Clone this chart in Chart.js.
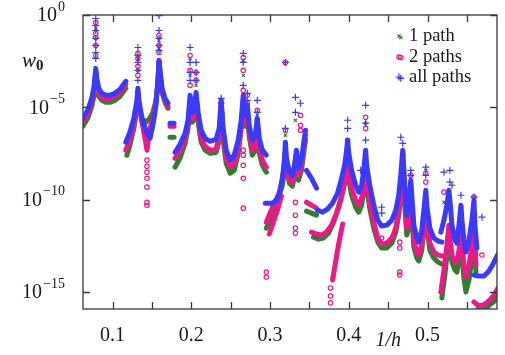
<!DOCTYPE html>
<html lang="en">
<head>
<meta charset="UTF-8">
<title>w0 vs 1/h</title>
<script src="https://cdn.jsdelivr.net/npm/chart.js"></script>
<style>
    body { margin: 0; background: #fff; }
    #wrap { width: 505px; height: 355px; position: relative; }
</style>
</head>
<body>
<div id="wrap"><canvas id="c"></canvas></div>
<script>
// points are [1/h, log10(w0)]
const BLUE_BANDS = [
    [[0.0622,-5.59],[0.0685,-5.16],[0.0736,-4.51],[0.0762,-3.97],[0.0787,-2.89],[0.0800,-3.43],[0.0825,-3.97],[0.0864,-4.24],[0.0915,-4.35],[0.0966,-4.35],[0.1029,-4.24],[0.1093,-4.03],[0.1169,-3.59]],
    [[0.1169,-6.89],[0.1220,-6.35],[0.1271,-5.59],[0.1310,-4.62],[0.1322,-3.97],[0.1335,-4.62],[0.1373,-5.59],[0.1424,-6.24],[0.1475,-6.68],[0.1513,-5.97],[0.1552,-4.89],[0.1577,-3.54],[0.1590,-2.46],[0.1603,-3.00],[0.1628,-3.97],[0.1666,-4.51],[0.1704,-4.78]],
    [[0.1730,-5.86],[0.1781,-5.86]],
    [[0.1794,-7.43],[0.1857,-7.00],[0.1921,-6.41],[0.1959,-5.70],[0.1985,-4.35],[0.2010,-5.27],[0.2036,-5.05],[0.2061,-4.19],[0.2087,-5.27],[0.2125,-6.24],[0.2176,-6.68],[0.2239,-6.84],[0.2316,-6.73],[0.2354,-6.14],[0.2380,-4.62],[0.2405,-6.14],[0.2443,-7.32],[0.2494,-7.86],[0.2545,-7.59],[0.2596,-6.78],[0.2634,-5.70],[0.2660,-4.35],[0.2685,-5.43],[0.2711,-4.89],[0.2736,-5.97],[0.2775,-6.78],[0.2813,-6.51],[0.2838,-5.59],[0.2864,-6.68],[0.2902,-7.32],[0.2953,-7.59]],
    [[0.2940,-10.19],[0.3030,-10.19],[0.3081,-10.03],[0.3119,-9.65],[0.3157,-8.84],[0.3183,-7.86],[0.3195,-6.89],[0.3208,-7.76],[0.3246,-8.51],[0.3284,-8.68],[0.3310,-8.14],[0.3335,-7.32],[0.3361,-8.30],[0.3399,-7.86],[0.3424,-7.05],[0.3450,-6.24]],
    [[0.3463,-8.41],[0.3526,-8.84],[0.3590,-9.38]],
    [[0.3603,-10.57],[0.3667,-10.68],[0.3730,-10.51],[0.3794,-10.19],[0.3858,-9.65],[0.3909,-8.84],[0.3947,-8.14],[0.3973,-7.32],[0.3985,-6.78],[0.3998,-7.43],[0.4036,-8.41],[0.4087,-9.22],[0.4125,-9.59],[0.4164,-9.22],[0.4189,-8.41],[0.4214,-7.32],[0.4227,-8.14],[0.4266,-9.22],[0.4317,-10.30],[0.4368,-11.11],[0.4418,-11.43],[0.4482,-11.38],[0.4546,-11.11],[0.4597,-10.57],[0.4634,-9.76],[0.4660,-8.68],[0.4685,-7.32],[0.4711,-9.22],[0.4736,-10.84],[0.4762,-10.30],[0.4787,-8.95],[0.4800,-9.76],[0.4826,-11.38],[0.4864,-12.08],[0.4889,-12.30],[0.4927,-11.65],[0.4953,-10.57],[0.4978,-9.49],[0.4991,-10.30],[0.5029,-11.54],[0.5080,-12.08],[0.5131,-12.24],[0.5182,-12.30]],
    [[0.5169,-11.76],[0.5208,-11.11],[0.5246,-10.30],[0.5271,-9.49],[0.5284,-10.03],[0.5310,-11.38],[0.5348,-12.19],[0.5373,-12.35],[0.5399,-11.38],[0.5424,-10.30],[0.5437,-11.11],[0.5462,-12.19],[0.5487,-12.84],[0.5526,-12.19],[0.5564,-11.11],[0.5589,-10.03],[0.5602,-11.38],[0.5627,-12.62]],
    [[0.5589,-14.08],[0.5653,-14.14],[0.5717,-14.14],[0.5768,-13.92],[0.5819,-13.59],[0.5857,-13.27],[0.5895,-12.95]]
];
const PINK_BANDS = [
    [[0.0622,-5.81],[0.0685,-5.38],[0.0736,-4.73],[0.0762,-4.19],[0.0787,-3.11],[0.0800,-3.65],[0.0825,-4.19],[0.0864,-4.46],[0.0915,-4.57],[0.0966,-4.51],[0.1029,-4.41],[0.1093,-4.19],[0.1169,-3.76]],
    [[0.1169,-7.32],[0.1220,-6.78],[0.1271,-5.92],[0.1310,-4.84],[0.1322,-4.19],[0.1335,-4.84],[0.1373,-5.81],[0.1412,-6.68],[0.1437,-7.32],[0.1475,-6.14],[0.1513,-5.59],[0.1552,-4.73],[0.1577,-3.54],[0.1590,-2.46],[0.1603,-3.11],[0.1628,-4.08],[0.1666,-4.62],[0.1704,-4.95]],
    [[0.1730,-6.03],[0.1781,-6.03]],
    [[0.1794,-7.76],[0.1857,-7.32],[0.1921,-6.68],[0.1959,-5.92],[0.1985,-4.62],[0.2010,-5.59],[0.2036,-5.43],[0.2061,-4.51],[0.2087,-5.59],[0.2125,-6.68],[0.2176,-7.11],[0.2239,-7.32],[0.2316,-7.27],[0.2354,-6.51],[0.2380,-4.89],[0.2405,-6.51],[0.2443,-7.76],[0.2494,-8.24],[0.2545,-8.03],[0.2596,-7.22],[0.2634,-5.97],[0.2660,-4.62],[0.2685,-5.81],[0.2711,-5.27],[0.2736,-6.35],[0.2775,-7.32],[0.2813,-7.05],[0.2838,-5.97],[0.2864,-7.22],[0.2902,-7.86],[0.2953,-8.24]],
    [[0.2953,-11.22],[0.3004,-10.68],[0.3055,-10.19],[0.3106,-9.76],[0.3144,-9.22],[0.3170,-8.51],[0.3195,-7.32],[0.3208,-8.19],[0.3246,-8.95],[0.3284,-9.05],[0.3310,-8.51],[0.3335,-7.59],[0.3361,-8.68],[0.3399,-8.14],[0.3424,-7.32],[0.3450,-6.51]],
    [[0.2991,-11.86],[0.3042,-11.22],[0.3093,-10.57],[0.3144,-9.81]],
    [[0.3463,-10.14],[0.3526,-10.30],[0.3590,-10.46]],
    [[0.3526,-11.76],[0.3590,-11.86],[0.3653,-11.92],[0.3717,-11.76],[0.3781,-11.38],[0.3845,-10.73],[0.3896,-10.03],[0.3947,-9.05],[0.3973,-8.30],[0.3985,-7.76],[0.3998,-8.41],[0.4036,-9.38],[0.4087,-10.03],[0.4125,-10.30],[0.4164,-9.92],[0.4189,-9.22],[0.4214,-8.14],[0.4227,-9.05],[0.4266,-10.14],[0.4317,-11.22],[0.4368,-12.08],[0.4418,-12.41],[0.4482,-12.35],[0.4546,-12.08],[0.4597,-11.54],[0.4634,-10.57],[0.4660,-9.49],[0.4685,-7.86],[0.4711,-10.03],[0.4736,-11.54],[0.4762,-11.11],[0.4787,-9.76],[0.4800,-10.57],[0.4826,-12.19],[0.4864,-12.84],[0.4889,-13.00],[0.4927,-12.46],[0.4953,-11.38],[0.4978,-10.30],[0.4991,-11.11],[0.5029,-12.35],[0.5080,-12.84],[0.5131,-13.00],[0.5182,-13.05]],
    [[0.3794,-14.35],[0.3820,-13.70],[0.3845,-13.05],[0.3871,-12.41],[0.3896,-11.86],[0.3922,-11.32]],
    [[0.5169,-15.00],[0.5208,-13.81],[0.5246,-12.46],[0.5271,-11.38],[0.5284,-12.08],[0.5310,-13.00],[0.5348,-13.38],[0.5373,-13.38],[0.5399,-12.73],[0.5424,-11.65],[0.5437,-12.46],[0.5462,-13.54],[0.5487,-14.24],[0.5526,-13.54],[0.5564,-12.46],[0.5589,-11.22],[0.5602,-12.46],[0.5615,-13.54]],
    [[0.5589,-15.54],[0.5640,-15.73],[0.5691,-15.73],[0.5742,-15.62],[0.5793,-15.43],[0.5844,-15.16],[0.5895,-14.78]]
];
const GREEN_BANDS = [
    [[0.0622,-6.03],[0.0685,-5.59],[0.0736,-4.95],[0.0762,-4.41],[0.0787,-3.27],[0.0800,-3.86],[0.0825,-4.41],[0.0864,-4.62],[0.0915,-4.73],[0.0966,-4.73],[0.1029,-4.62],[0.1093,-4.41],[0.1169,-3.97]],
    [[0.1182,-7.59],[0.1220,-7.05],[0.1271,-6.14],[0.1310,-5.05],[0.1322,-4.41],[0.1335,-4.95],[0.1373,-5.59],[0.1424,-5.81],[0.1475,-5.59],[0.1513,-5.27],[0.1552,-4.62],[0.1577,-3.65],[0.1590,-2.57],[0.1603,-3.22],[0.1628,-4.19],[0.1666,-4.73],[0.1704,-5.05]],
    [[0.1730,-6.62],[0.1781,-6.62]],
    [[0.1794,-8.24],[0.1857,-7.76],[0.1921,-6.95],[0.1959,-6.14],[0.1985,-4.84],[0.2010,-5.81],[0.2036,-5.65],[0.2061,-4.73],[0.2087,-5.81],[0.2125,-6.89],[0.2176,-7.32],[0.2239,-7.49],[0.2316,-7.43],[0.2354,-6.78],[0.2380,-5.05],[0.2405,-6.78],[0.2443,-8.03],[0.2494,-8.57],[0.2545,-8.41],[0.2596,-7.49],[0.2634,-6.14],[0.2660,-4.78],[0.2685,-6.03],[0.2711,-5.49],[0.2736,-6.57],[0.2775,-7.59],[0.2813,-7.32],[0.2838,-6.24],[0.2864,-7.49],[0.2902,-8.14],[0.2953,-8.51]],
    [[0.2953,-11.54],[0.3004,-11.00],[0.3055,-10.46],[0.3106,-9.92],[0.3157,-9.22],[0.3183,-8.30],[0.3195,-7.43],[0.3208,-8.30],[0.3246,-9.11],[0.3284,-9.27],[0.3310,-8.73],[0.3335,-7.86],[0.3361,-8.95],[0.3399,-8.41],[0.3424,-7.59],[0.3450,-6.78]],
    [[0.3463,-10.62],[0.3526,-10.73],[0.3590,-10.84]],
    [[0.3552,-12.03],[0.3616,-12.14],[0.3679,-12.08],[0.3743,-11.81],[0.3807,-11.22],[0.3871,-10.41],[0.3922,-9.59],[0.3960,-8.84],[0.3985,-8.14],[0.3998,-8.84],[0.4036,-9.76],[0.4087,-10.41],[0.4125,-10.68],[0.4164,-10.30],[0.4189,-9.49],[0.4214,-8.41],[0.4227,-9.38],[0.4266,-10.46],[0.4317,-11.54],[0.4368,-12.30],[0.4418,-12.62],[0.4482,-12.62],[0.4546,-12.35],[0.4597,-11.76],[0.4634,-10.84],[0.4660,-9.76],[0.4685,-8.14],[0.4711,-10.30],[0.4736,-11.92],[0.4762,-11.49],[0.4787,-10.03],[0.4800,-10.84],[0.4826,-12.57],[0.4864,-13.16],[0.4889,-13.32],[0.4927,-12.73],[0.4953,-11.65],[0.4978,-10.57],[0.4991,-11.38],[0.5029,-12.73],[0.5080,-13.16],[0.5131,-13.38],[0.5182,-13.49]],
    [[0.5182,-15.32],[0.5220,-14.08],[0.5246,-13.00],[0.5271,-11.92],[0.5284,-12.46],[0.5310,-13.38],[0.5348,-13.81],[0.5373,-13.92],[0.5399,-13.27],[0.5424,-12.19],[0.5437,-13.00],[0.5462,-14.24],[0.5487,-15.00],[0.5526,-14.35],[0.5564,-13.16],[0.5589,-11.76],[0.5602,-13.00],[0.5615,-13.92]],
    [[0.5640,-15.95],[0.5691,-15.95],[0.5742,-15.89],[0.5793,-15.68],[0.5844,-15.51],[0.5895,-15.27]]
];

// isolated markers: [1/h, [log10 values...]]
const BLUE_PTS = [
    [0.0787,[-0.19,-0.57,-0.84,-1.27,-1.65,-2.03,-2.35]], [0.1322,[-1.76,-2.19,-2.57,-3.00,-3.54]],
    [0.1590,[-0.03,-0.84,-1.27,-1.65,-1.92]], [0.1985,[-1.76,-2.57,-3.11,-3.54]], [0.2061,[-2.57,-3.11,-3.54]],
    [0.2380,[-4.51,-4.78,-5.27]], [0.2660,[-2.08,-2.57,-3.81]], [0.2711,[-4.24,-4.62]], [0.2838,[-4.62,-5.27]],
    [0.3195,[-2.57,-6.14]], [0.3322,[-4.46,-5.27]], [0.3386,[-4.78]], [0.3985,[-5.70,-6.14]], [0.4151,[-8.41]],
    [0.4214,[-4.89,-5.86,-6.78]], [0.4418,[-10.41,-10.73]], [0.4660,[-3.43,-6.62]], [0.4685,[-6.95]],
    [0.4787,[-8.41,-8.68]], [0.4978,[-8.24,-8.68]], [0.5208,[-8.51]], [0.5284,[-8.41,-9.05]], [0.5310,[-9.22]],
    [0.5424,[-9.76]], [0.5589,[-9.86]], [0.5691,[-10.95]]
];
const PINK_PTS = [
    [0.0787,[-0.41,-1.00,-1.22,-1.65,-2.19]], [0.1322,[-2.08,-2.35,-2.78,-3.27]],
    [0.1437,[-7.86,-8.19,-8.51,-8.84,-9.32,-10.14,-10.30]], [0.1590,[-1.11,-1.65,-2.03]],
    [0.1985,[-2.19,-3.00,-3.81]], [0.2061,[-3.11,-3.54]], [0.2380,[-4.78,-5.16,-5.59]],
    [0.2660,[-2.30,-3.00,-4.08,-7.32,-7.59,-8.14,-8.84,-10.46]], [0.2711,[-4.35,-4.78]], [0.2838,[-5.16,-5.70]],
    [0.2953,[-13.92,-14.19]], [0.3195,[-2.57,-6.24]], [0.3322,[-10.14,-10.84,-11.54,-11.81]],
    [0.3386,[-5.43,-5.97,-6.24]], [0.3768,[-14.78,-15.22,-15.59]], [0.3985,[-6.78,-7.22]], [0.4214,[-5.54,-6.14]],
    [0.4418,[-12.08]], [0.4647,[-12.30,-12.62,-13.92,-14.08]], [0.4660,[-2.30]], [0.4685,[-7.59]],
    [0.4787,[-8.68]], [0.4978,[-8.57,-9.05]], [0.5208,[-9.59]], [0.5424,[-10.84]],
    [0.5589,[-9.86,-13.00,-13.16]], [0.5691,[-13.00]]
];
const GREEN_PTS = [
    [0.0787,[-0.73]], [0.1322,[-2.35,-3.00]], [0.1590,[-1.38,-1.81]], [0.1985,[-2.35,-3.27]], [0.2061,[-3.81]],
    [0.2380,[-5.27,-5.70]], [0.2660,[-2.46,-3.27]], [0.2838,[-5.43]], [0.3195,[-6.51]], [0.3322,[-5.70]],
    [0.3985,[-7.05]], [0.4214,[-5.86]], [0.4660,[-1.22]], [0.4685,[-7.76]], [0.4787,[-8.95]], [0.4978,[-8.41]],
    [0.5208,[-10.14]], [0.5424,[-10.68]], [0.5589,[-10.57]]
];

const X_TICKS = [0.1, 0.15, 0.2, 0.25, 0.3, 0.35, 0.4, 0.45, 0.5, 0.55];
const X_LABELS = ['0.1', '', '0.2', '', '0.3', '', '0.4', '1/h', '0.5', ''];
const Y_TICKS = [1, 1e-5, 1e-10, 1e-15];
const Y_EXPONENTS = ['0', '\u22125', '\u221210', '\u221215'];
const SERIES_NAMES = ['1 path', '2 paths', 'all paths'];

const GREEN = '#2f7f2f';
const PINK = '#ea1a88';
const BLUE = '#3a3af8';
const FONT = '"Liberation Serif", "Times New Roman", serif';

const toXY = p => ({ x: p[0], y: 10 ** p[1] });

function bandSets(bands, color, order) {
    return bands.map(seg => ({
        data: seg.map(toXY),
        showLine: true,
        borderColor: color,
        borderWidth: 5,
        borderJoinStyle: 'round',
        borderCapStyle: 'round',
        pointRadius: 0,
        order: order
    }));
}

function pointSet(cols, color, style, radius, order) {
    const data = [];
    cols.forEach(c => c[1].forEach(e => data.push({ x: c[0], y: 10 ** e })));
    return {
        data: data,
        showLine: false,
        pointStyle: style,
        pointRadius: radius,
        borderColor: color,
        backgroundColor: 'rgba(0,0,0,0)',
        borderWidth: 1.2,
        order: order
    };
}

const datasets = [].concat(
    bandSets(GREEN_BANDS, GREEN, 6),
    [pointSet(GREEN_PTS, GREEN, 'crossRot', 2.2, 5)],
    bandSets(PINK_BANDS, PINK, 4),
    [pointSet(PINK_PTS, PINK, 'circle', 2.2, 3)],
    bandSets(BLUE_BANDS, BLUE, 2),
    [pointSet(BLUE_PTS, BLUE, 'cross', 3.5, 1)]
);

// frame with inward ticks, tick labels, axis label and the key
const decor = {
    id: 'decor',
    afterDatasetsDraw(chart) {
        const { ctx, chartArea: a, scales: { x, y } } = chart;
        ctx.save();
        ctx.strokeStyle = '#3a3a3a';
        ctx.lineWidth = 1.3;
        ctx.strokeRect(a.left, a.top, a.right - a.left, a.bottom - a.top);
        ctx.beginPath();
        X_TICKS.forEach(v => {
            const px = Math.round(x.getPixelForValue(v)) + 0.5;
            ctx.moveTo(px, a.bottom); ctx.lineTo(px, a.bottom - 7);
            ctx.moveTo(px, a.top); ctx.lineTo(px, a.top + 7);
        });
        Y_TICKS.forEach(v => {
            const py = Math.round(y.getPixelForValue(v)) + 0.5;
            ctx.moveTo(a.left, py); ctx.lineTo(a.left + 7, py);
            ctx.moveTo(a.right, py); ctx.lineTo(a.right - 7, py);
        });
        ctx.stroke();

        ctx.fillStyle = '#1a1a1a';
        ctx.textBaseline = 'middle';
        ctx.textAlign = 'center';
        X_TICKS.forEach((v, i) => {
            const lab = X_LABELS[i];
            if (!lab) return;
            const px = x.getPixelForValue(v);
            if (lab === '1/h') {
                ctx.font = 'italic 20px ' + FONT;
                ctx.fillText(lab, px, a.bottom + 32);
            } else {
                ctx.font = '20px ' + FONT;
                ctx.fillText(lab, px, a.bottom + 27);
            }
        });

        Y_TICKS.forEach((v, i) => {
            const py = y.getPixelForValue(v);
            ctx.textAlign = 'left';
            ctx.font = '14px ' + FONT;
            const ew = ctx.measureText(Y_EXPONENTS[i]).width;
            ctx.fillText(Y_EXPONENTS[i], 65 - ew, py - 8);
            ctx.textAlign = 'right';
            ctx.font = '20px ' + FONT;
            ctx.fillText('10', 65 - ew - 1, py + 1);
        });

        ctx.textAlign = 'left';
        ctx.textBaseline = 'alphabetic';
        ctx.font = 'italic 21px ' + FONT;
        ctx.fillText('w', 22, 67);
        ctx.font = 'bold 15px ' + FONT;
        ctx.fillText('0', 36, 70);

        // key
        const keyColors = [GREEN, PINK, BLUE];
        const keyY = [36, 57, 77];
        ctx.textBaseline = 'middle';
        ctx.font = '18.5px ' + FONT;
        SERIES_NAMES.forEach((name, i) => {
            const cx = 399, cy = keyY[i];
            ctx.strokeStyle = keyColors[i];
            ctx.lineWidth = 1.2;
            ctx.beginPath();
            if (i === 0) {
                ctx.moveTo(cx - 1.6, cy - 1.6); ctx.lineTo(cx + 1.6, cy + 1.6);
                ctx.moveTo(cx - 1.6, cy + 1.6); ctx.lineTo(cx + 1.6, cy - 1.6);
            } else if (i === 1) {
                ctx.arc(cx, cy, 2.2, 0, Math.PI * 2);
            } else {
                ctx.moveTo(cx - 3.5, cy); ctx.lineTo(cx + 3.5, cy);
                ctx.moveTo(cx, cy - 3.5); ctx.lineTo(cx, cy + 3.5);
            }
            ctx.stroke();
            ctx.fillStyle = '#1a1a1a';
            ctx.fillText(name, 409, cy);
        });
        ctx.restore();
    }
};

const hidden = { display: false };
new Chart(document.getElementById('c'), {
    type: 'scatter',
    data: { datasets: datasets },
    options: {
        responsive: true,
        maintainAspectRatio: false,
        animation: false,
        layout: { padding: { top: 15, right: 8, left: 0, bottom: 0 } },
        scales: {
            x: {
                type: 'linear', min: 0.0625, max: 0.5882,
                ticks: hidden, grid: hidden, border: hidden,
                afterFit(s) { s.height = 46; }
            },
            y: {
                type: 'logarithmic', min: 1.2e-16, max: 1,
                ticks: hidden, grid: hidden, border: hidden,
                afterFit(s) { s.width = 83; }
            }
        },
        plugins: { legend: { display: false }, tooltip: { enabled: false } }
    },
    plugins: [decor]
});
</script>
</body>
</html>
